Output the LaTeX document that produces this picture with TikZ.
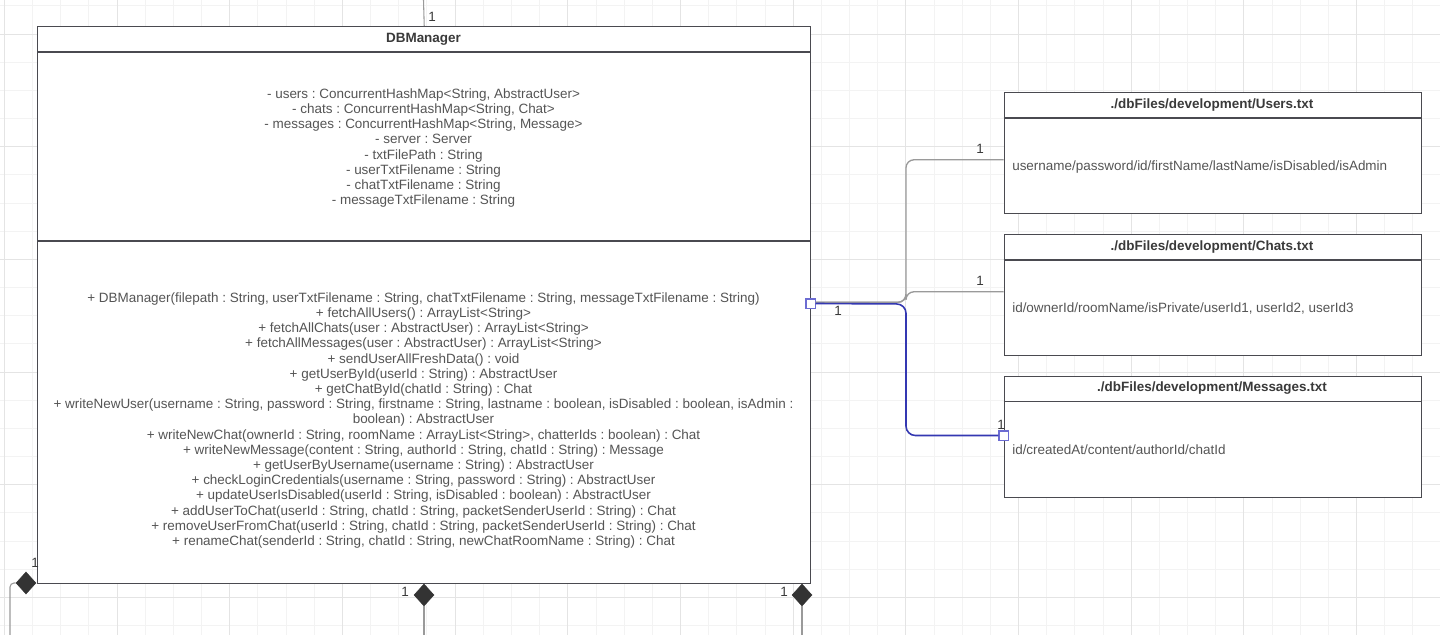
\documentclass[tikz,border=0pt]{standalone}
\usepackage{fontspec}
\setmainfont{Liberation Sans}
\definecolor{gridminor}{HTML}{F3F3F3}
\definecolor{gridmajor}{HTML}{E4E4E4}
\definecolor{boxline}{HTML}{4A4A50}
\definecolor{umltext}{HTML}{555555}
\definecolor{headtext}{HTML}{3A3A3A}
\definecolor{linkgray}{HTML}{9A9A9A}
\definecolor{linkblue}{HTML}{3438B2}
\definecolor{portblue}{HTML}{6C6CD2}
\definecolor{aggfill}{HTML}{333333}
\usetikzlibrary{shapes.geometric}
\newcommand\umlfont{\frenchspacing\fontsize{10.1}{11.4}\selectfont}

\begin{document}
\begin{tikzpicture}[x=0.75pt, y=-0.75pt,
  umlbox/.style={draw=boxline, line width=1.1pt, fill=white, inner sep=0pt, anchor=north west},
  sepline/.style={draw=boxline, line width=1.1pt},
  title/.style={font=\umlfont\bfseries, text=headtext, inner sep=0pt},
  members/.style={font=\umlfont, text=umltext, align=center, inner sep=0pt},
  row/.style={font=\umlfont, text=umltext, anchor=west, inner sep=0pt},
  mult/.style={font=\umlfont, text=headtext, inner sep=0pt},
  graylink/.style={draw=linkgray, line width=1pt, rounded corners=6pt},
  bluelink/.style={draw=linkblue, line width=1.2pt, rounded corners=7pt},
  thinlink/.style={draw=linkgray, line width=0.8pt, rounded corners=3pt},
  port/.style={draw=portblue, fill=white, line width=0.8pt, minimum size=6.8pt, inner sep=0pt},
  agg/.style={diamond, fill=aggfill, draw=aggfill, minimum width=15pt, minimum height=16.5pt, inner sep=0pt}]

  % page and grid
  \useasboundingbox (0,0) rectangle (1440,635);
  \fill[white] (0,0) rectangle (1440,635);
  \foreach \i in {0,...,51}
    \draw[gridminor, line width=0.7pt] ({4.4+28.17*\i},0) -- ({4.4+28.17*\i},635);
  \foreach \j in {0,...,22}
    \draw[gridminor, line width=0.7pt] (0,{5.83+28.17*\j}) -- (1440,{5.83+28.17*\j});
  \foreach \i in {0,...,12}
    \draw[gridmajor, line width=0.7pt] ({4.4+112.68*\i},0) -- ({4.4+112.68*\i},635);
  \foreach \j in {0,...,5}
    \draw[gridmajor, line width=0.7pt] (0,{34+112.68*\j}) -- (1440,{34+112.68*\j});

  % DBManager class
  \node[umlbox, minimum width=579.75pt, minimum height=417.75pt] (dbm) at (37,26) {};
  \draw[sepline] (37,52) -- (810,52);
  \draw[sepline] (37,241) -- (810,241);
  \node[title] (dbmtitle) at (423.5,39) {DBManager};
  \node[members] (dbmattrs) at (423.5,148) {%
    - users : ConcurrentHashMap<String, AbstractUser>\\
    - chats : ConcurrentHashMap<String, Chat>\\
    - messages : ConcurrentHashMap<String, Message>\\
    - server : Server\\
    - txtFilePath : String\\
    - userTxtFilename : String\\
    - chatTxtFilename : String\\
    - messageTxtFilename : String};
  \node[members] (dbmmethods) at (423.5,420.5) {%
    + DBManager(filepath : String, userTxtFilename : String, chatTxtFilename : String, messageTxtFilename : String)\\
    + fetchAllUsers() : ArrayList<String>\\
    + fetchAllChats(user : AbstractUser) : ArrayList<String>\\
    + fetchAllMessages(user : AbstractUser) : ArrayList<String>\\
    + sendUserAllFreshData() : void\\
    + getUserById(userId : String) : AbstractUser\\
    + getChatById(chatId : String) : Chat\\
    + writeNewUser(username : String, password : String, firstname : String, lastname : boolean, isDisabled : boolean, isAdmin :\\
    boolean) : AbstractUser\\
    + writeNewChat(ownerId : String, roomName : ArrayList<String>, chatterIds : boolean) : Chat\\
    + writeNewMessage(content : String, authorId : String, chatId : String) : Message\\
    + getUserByUsername(username : String) : AbstractUser\\
    + checkLoginCredentials(username : String, password : String) : AbstractUser\\
    + updateUserIsDisabled(userId : String, isDisabled : boolean) : AbstractUser\\
    + addUserToChat(userId : String, chatId : String, packetSenderUserId : String) : Chat\\
    + removeUserFromChat(userId : String, chatId : String, packetSenderUserId : String) : Chat\\
    + renameChat(senderId : String, chatId : String, newChatRoomName : String) : Chat};

  % text files
  \node[umlbox, minimum width=312.75pt, minimum height=90.75pt] (users) at (1003.5,92) {};
  \draw[sepline] (1003.5,118) -- (1420.5,118);
  \node[title] (userstitle) at (1212,105) {./dbFiles/development/Users.txt};
  \node[row] (usersrow) at (1012,167) {username/password/id/firstName/lastName/isDisabled/isAdmin};

  \node[umlbox, minimum width=312.75pt, minimum height=90.75pt] (chats) at (1003.5,234) {};
  \draw[sepline] (1003.5,260) -- (1420.5,260);
  \node[title] (chatstitle) at (1212,247) {./dbFiles/development/Chats.txt};
  \node[row] (chatsrow) at (1012,308) {id/ownerId/roomName/isPrivate/userId1, userId2, userId3};

  \node[umlbox, minimum width=312.75pt, minimum height=90.75pt] (msgs) at (1003.5,375.5) {};
  \draw[sepline] (1003.5,401.5) -- (1420.5,401.5);
  \node[title] (msgstitle) at (1212,388.5) {./dbFiles/development/Messages.txt};
  \node[row] (msgsrow) at (1012,449.5) {id/createdAt/content/authorId/chatId};

  % associations to the files
  \node[port] (pm) at (810.5,303.5) {};
  \node[port] (pe) at (1003.5,435.5) {};
  \draw[graylink] ([yshift=0.9pt]pm.east) -- (906,302.3) |- ([yshift=-4.9pt]users.west);
  \draw[graylink] ([yshift=0.9pt]pm.east) -- (906,302.3) |- ([yshift=2.6pt]chats.west);
  \draw[bluelink] (pm.east) -- (906,304) |- (pe.west);
  \node[mult] (musers) at (980,149) {1};
  \node[mult] (mchats) at (980,281) {1};
  \node[mult] (mport) at (838,311) {1};
  \node[mult] (mmsgs) at (1001,425) {1};

  % compositions
  \coordinate (topin) at (423.5,0);
  \draw[thinlink] (topin) -- (dbm.north);
  \node[mult] (mtop) at (432,17) {1};
  \node[agg] (dleft) at (26,583) {};
  \node[agg] (dmid) at (424,595) {};
  \node[agg] (dright) at (802,595) {};
  \coordinate (leftdown) at (10,640);
  \coordinate (middown) at (424,640);
  \coordinate (rightdown) at (802,640);
  \draw[thinlink] (dleft.west) -| (leftdown);
  \draw[thinlink] (dmid.south) -- (middown);
  \draw[thinlink] (dright.south) -- (rightdown);
  \node[mult] (mleft) at (35,563) {1};
  \node[mult] (mmid) at (405,592) {1};
  \node[mult] (mright) at (784,592) {1};
\end{tikzpicture}
\end{document}
